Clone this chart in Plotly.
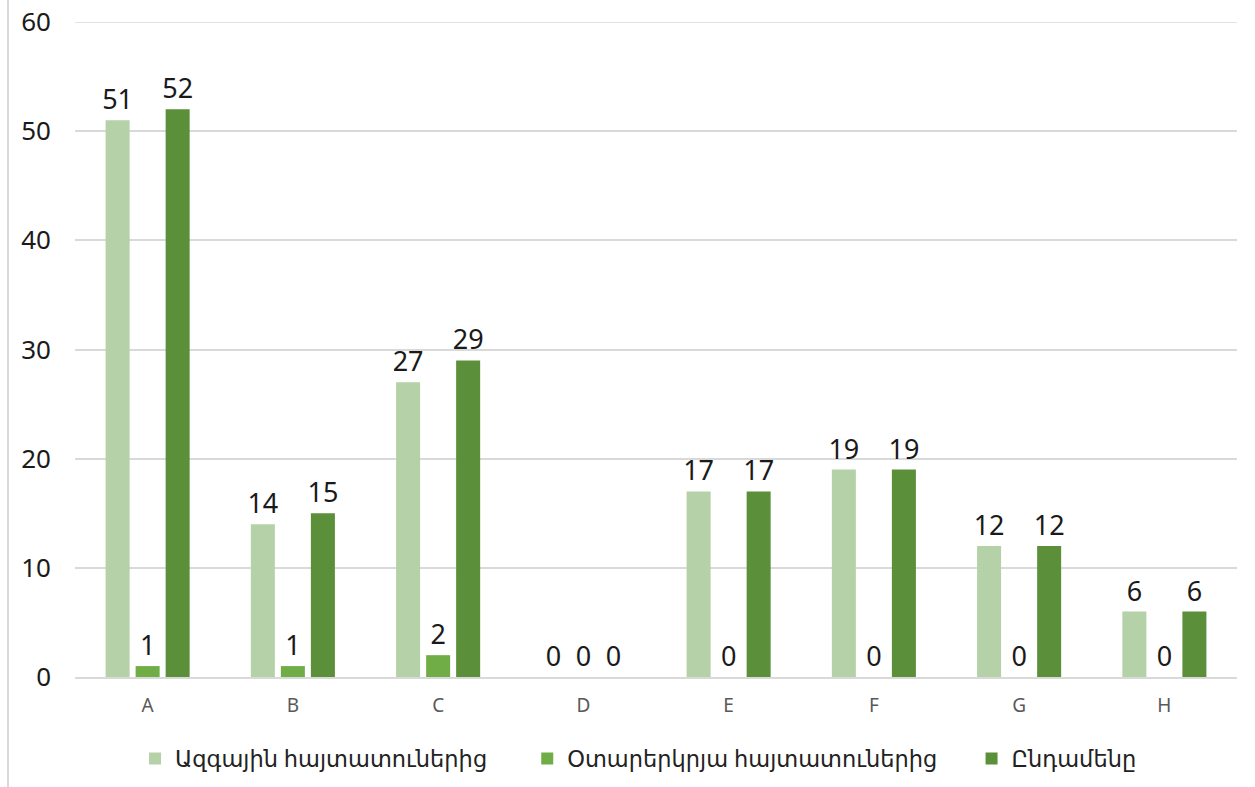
import plotly.graph_objects as go

categories = ["A", "B", "C", "D", "E", "F", "G", "H"]
national = [51, 14, 27, 0, 17, 19, 12, 6]
foreign = [1, 1, 2, 0, 0, 0, 0, 0]
total = [52, 15, 29, 0, 17, 19, 12, 6]
series_names = ["Ազգային հայտատուներից", "Օտարերկրյա հայտատուներից", "Ընդամենը"]
colors = ["#B5D1A7", "#70AD47", "#5B8F3A"]

FONT = "Noto Sans, DejaVu Sans, sans-serif"
PADS = ["\u00a0" * 6, "\u00a0" * 5, ""]

fig = go.Figure()
for name, pad, vals, col in zip(series_names, PADS, [national, foreign, total], colors):
    fig.add_trace(go.Bar(
        x=categories, y=vals, name=name + pad, marker_color=col,
        marker_line_width=0,
        text=[str(v) for v in vals], textposition="outside",
        constraintext="none",
        textfont=dict(size=27, color="#1a1a1a", family=FONT),
        cliponaxis=False, hoverinfo="skip",
    ))

fig.update_layout(
    width=1255, height=787,
    margin=dict(l=75, r=18, t=22, b=110, autoexpand=False),
    paper_bgcolor="white", plot_bgcolor="white",
    barmode="group", bargap=0.38, bargroupgap=0.2,
    font=dict(family=FONT),
    legend=dict(orientation="h", x=0.485, xanchor="center", y=-0.125, yanchor="middle",
                font=dict(size=22.5, color="#222", family=FONT),
                itemwidth=30, traceorder="normal"),
    showlegend=True,
)
fig.update_xaxes(showline=True, linecolor="#D9D9D9", linewidth=2, automargin=False,
                 tickfont=dict(size=19, color="#595959", family=FONT),
                 ticks="", ticklabelstandoff=10)
fig.update_yaxes(range=[0, 60], dtick=10, automargin=False,
                 showgrid=True, gridcolor="#D9D9D9",
                 gridwidth=1.5, zeroline=False, showline=False,
                 tickfont=dict(size=26, color="#1a1a1a", family=FONT),
                 ticklabelstandoff=23)
# top gridline (plotly drops the gridline at the range end)
fig.add_shape(type="line", xref="paper", yref="y", x0=0, x1=1, y0=60, y1=60,
              line=dict(color="#D9D9D9", width=1.5), layer="below")
fig.add_shape(type="line", xref="paper", yref="paper",
              x0=-67 / 1162, x1=-67 / 1162, y0=-0.2, y1=1.05,
              line=dict(color="#D9D9D9", width=2))

fig.write_html("out.html", config={"displayModeBar": False},
               post_script="document.body.style.margin='0';document.body.style.overflow='hidden';")
